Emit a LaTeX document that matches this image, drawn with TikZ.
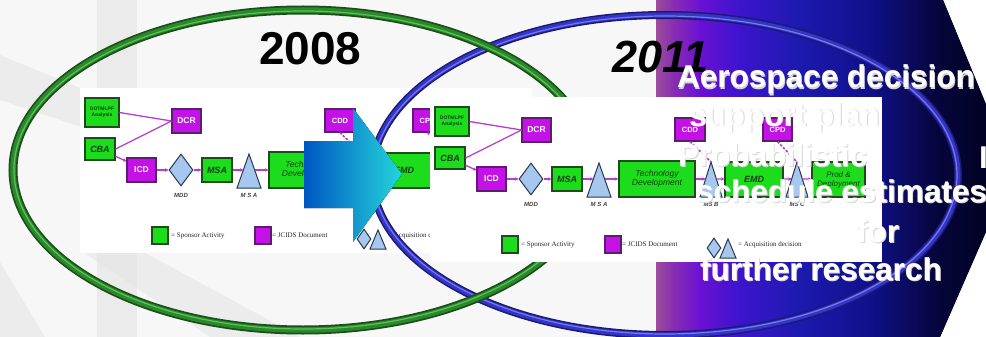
\documentclass[tikz,border=0pt]{standalone}
\usepackage{fontspec}
\setmainfont{Liberation Sans}
\newfontfamily\legendfont{Liberation Serif}
\usetikzlibrary{shapes.geometric,arrows.meta}

% chart colours
\definecolor{actgreen}{HTML}{1CDC1C}
\definecolor{actedge}{HTML}{1E4A1E}
\definecolor{docpurple}{HTML}{C412E6}
\definecolor{docedge}{HTML}{5C1C70}
\definecolor{decfill}{HTML}{A6C8EE}
\definecolor{decedge}{HTML}{27384A}
\definecolor{flow}{HTML}{B63CD6}
\definecolor{labelgreen}{HTML}{123C12}
% ellipse and arrow colours
\definecolor{ringgreenD}{HTML}{1A4F1A}
\definecolor{ringgreen}{HTML}{2A8A2A}
\definecolor{ringgreenL}{HTML}{5CC05C}
\definecolor{ringblueD}{HTML}{1A1A70}
\definecolor{ringblue}{HTML}{3434C8}
\definecolor{ringblueL}{HTML}{7878F2}
\definecolor{arrowL}{HTML}{0056C2}
\definecolor{arrowR}{HTML}{24D6DA}
% panel gradient
\definecolor{pA}{HTML}{9C4E9A}
\definecolor{pB}{HTML}{8A30B0}
\definecolor{pC}{HTML}{6A10D4}
\definecolor{pD}{HTML}{3C14CC}
\definecolor{pE}{HTML}{1C1AAE}
\definecolor{pF}{HTML}{10108A}
\definecolor{pG}{HTML}{05053A}
\definecolor{pH}{HTML}{000018}
\pgfdeclarehorizontalshading{panelshade}{100bp}{color(0bp)=(pA); color(25bp)=(pA); color(27.2bp)=(pB); color(31.2bp)=(pC); color(36.8bp)=(pD); color(45.2bp)=(pE); color(55bp)=(pF); color(64.8bp)=(pG); color(75bp)=(pH); color(100bp)=(pH)}

\tikzset{
  actbox/.style={draw=actedge, fill=actgreen, line width=1.1pt, inner sep=0pt, text=labelgreen, align=center},
  docbox/.style={draw=docedge, fill=docpurple, line width=1.1pt, inner sep=0pt, text=white, align=center,
    font=\bfseries\fontsize{8.5}{9}\selectfont},
  decision/.style={draw=decedge, fill=decfill, line width=1pt},
  flowline/.style={draw=flow, line width=1.3pt},
  flowarrow/.style={flowline, -{Stealth[length=3.5pt,width=3.5pt]}},
  linkline/.style={draw=flow, line width=1.6pt, dash pattern=on 2.5pt off 1.5pt},
  stagelabel/.style={font=\bfseries\itshape\fontsize{6}{7}\selectfont, text=black!75, inner sep=0pt},
  legendtext/.style={font=\legendfont\fontsize{7}{8}\selectfont, text=black!85, anchor=west, inner sep=0pt},
  yeartitle/.style={font=\bfseries\fontsize{46}{50}\selectfont, anchor=base west, inner sep=0pt},
  panelline/.style={font=\bfseries\fontsize{31.5}{36}\selectfont, text=white, anchor=base west, inner sep=0pt},
  panelshadow/.style={panelline, text=black!16, xshift=1pt, yshift=-1pt},
}

% JCIDS process chart, drawn in a 452 x 165 frame
\newcommand\jcidschart{%
  \fill[white] (0,0) rectangle (452,165);
  % boxes
  \node[actbox, minimum width=34pt, minimum height=29pt, font=\bfseries\fontsize{5}{5.5}\selectfont] (dot) at (22,24.5) {DOTMLPF\\Analysis};
  \node[actbox, minimum width=30pt, minimum height=22pt, font=\bfseries\itshape\fontsize{9}{10}\selectfont] (cba) at (20,61) {CBA};
  \node[docbox, minimum width=29pt, minimum height=24pt] (dcr) at (106.5,33) {DCR};
  \node[docbox, minimum width=29pt, minimum height=24pt] (icd) at (61.5,82) {ICD};
  \node[decision, diamond, minimum width=24pt, minimum height=32pt, inner sep=0pt] (mdd) at (101,82) {};
  \node[actbox, minimum width=30pt, minimum height=24pt, font=\bfseries\itshape\fontsize{9}{10}\selectfont] (msa) at (137,82) {MSA};
  \draw[decision] (157,100) -- (169,66) -- (181,100) -- cycle;
  \coordinate (tria-w) at (163.5,82);
  \coordinate (tria-e) at (174.5,82);
  \node[actbox, minimum width=76pt, minimum height=36pt, font=\itshape\fontsize{8.5}{9.5}\selectfont] (tech) at (227,82) {Technology\\Development};
  \node[docbox, minimum width=30pt, minimum height=23pt, font=\bfseries\fontsize{7.5}{8}\selectfont] (cdd) at (260,32.5) {CDD};
  \draw[decision] (270,100) -- (281,65) -- (292,100) -- cycle;
  \coordinate (trib-top) at (281,65);
  \coordinate (trib-w) at (275.7,82);
  \coordinate (trib-e) at (286.3,82);
  \node[actbox, minimum width=58pt, minimum height=35pt, font=\bfseries\itshape\fontsize{9}{10}\selectfont] (emd) at (324,82.5) {EMD};
  \node[docbox, minimum width=29pt, minimum height=23pt, font=\bfseries\fontsize{7.5}{8}\selectfont] (cpd) at (347.5,32.5) {CPD};
  \draw[decision] (356,100) -- (367,65) -- (378,100) -- cycle;
  \coordinate (tric-top) at (367,65);
  \coordinate (tric-w) at (361.7,82);
  \coordinate (tric-e) at (372.3,82);
  \node[actbox, minimum width=53pt, minimum height=35pt, font=\itshape\fontsize{8}{9}\selectfont] (prod) at (408.5,82.5) {Prod \&\\Deployment};
  % milestone labels
  \node[stagelabel] (mddlabel) at (101,107) {MDD};
  \node[stagelabel] (msalabel) at (169,107) {M S A};
  \node[stagelabel] (msblabel) at (281,107) {MS B};
  \node[stagelabel] (msclabel) at (367,107) {MS C};
  % flow
  \draw[flowline] (dot.east) -- (dcr.west);
  \draw[flowline] (cba.east) -- (dcr.west);
  \draw[flowarrow] (cba.-25) -- (icd.150);
  \draw[flowarrow] (icd) -- (mdd);
  \draw[flowarrow] (mdd) -- (msa);
  \draw[flowarrow] (msa) -- (tria-w);
  \draw[flowarrow] (tria-e) -- (tech);
  \draw[flowarrow] (tech) -- (trib-w);
  \draw[flowarrow] (trib-e) -- (emd);
  \draw[flowarrow] (emd) -- (tric-w);
  \draw[flowarrow] (tric-e) -- (prod);
  \draw[linkline] (cdd.south) -- (trib-top);
  \draw[linkline] (cpd.south) -- (tric-top);
  % key
  \node[actbox, minimum width=16pt, minimum height=17pt] (keyact) at (80,147.5) {};
  \node[legendtext] (keyacttext) at (91,147.5) {= Sponsor Activity};
  \node[docbox, minimum width=16pt, minimum height=17pt] (keydoc) at (183,147.5) {};
  \node[legendtext] (keydoctext) at (192,147.5) {= JCIDS Document};
  \node[decision, diamond, minimum width=14pt, minimum height=20pt, inner sep=0pt] (keydec) at (284,151) {};
  \draw[decision] (290,161) -- (298,142) -- (306,161) -- cycle;
  \node[legendtext] (keydectext) at (308,148) {= Acquisition decision};
}

\begin{document}
\begin{tikzpicture}[x=1pt, y=-1pt]
  \useasboundingbox (0,0) rectangle (986,337);
  \clip (0,0) rectangle (986,337);

  % slide background
  \fill[white] (0,0) rectangle (986,337);
  \fill[black!3] (0,0) rectangle (656,337);
  \fill[black!11, opacity=0.6] (97,0) rectangle (137,337);
  \fill[black!10, opacity=0.6] (0,55) -- (90,92) -- (90,130) -- (0,100) -- cycle;
  \fill[black!10, opacity=0.6] (80,250) -- (140,250) -- (300,337) -- (210,337) -- cycle;
  \fill[black!10, opacity=0.6] (0,262) -- (45,337) -- (0,337) -- cycle;

  % gradient chevron panel
  \fill[shading=panelshade] (656,0) -- (943,0) -- (1013,170) -- (940,337) -- (656,337) -- cycle;

  % 2008 chart
  \begin{scope}[shift={(80,88)}, name prefix=old-]
    \jcidschart
  \end{scope}

  % 2011 ring
  \draw[ringblueD, line width=8pt] (665,175) ellipse [x radius=293pt, y radius=160pt];
  \draw[ringblue, line width=5pt] (665,175) ellipse [x radius=293pt, y radius=160pt];
  \draw[ringblueL, line width=1.2pt] (665,175) ellipse [x radius=292pt, y radius=159pt];
  % 2008 ring
  \draw[ringgreenD, line width=9pt] (303,170) ellipse [x radius=290pt, y radius=160pt];
  \draw[ringgreen, line width=5.5pt] (303,170) ellipse [x radius=290pt, y radius=160pt];
  \draw[ringgreenL, line width=1.2pt] (303,170) ellipse [x radius=289pt, y radius=159pt];

  % transition arrow
  \fill[left color=arrowL, right color=arrowR] (304,141) -- (353,141) -- (353,108) -- (402,174)
    -- (353,242) -- (353,208) -- (304,208) -- cycle;

  % 2011 chart
  \begin{scope}[shift={(430,97)}, name prefix=new-]
    \jcidschart
  \end{scope}

  % year titles
  \node[yeartitle] (yearold) at (259,65) {2008};
  \node[yeartitle, font=\bfseries\itshape\fontsize{45}{50}\selectfont] (yearnew) at (612,73) {2011};

  % panel text
  \node[panelshadow] (lineAs) at (677,88) {Aerospace decision};
  \node[panelline] (lineA) at (677,88) {Aerospace decision};
  \node[panelshadow] (lineBs) at (689,126) {support plan};
  \node[panelline] (lineB) at (689,126) {support plan};
  \node[panelshadow] (lineCs) at (678,166) {Probabilistic};
  \node[panelline] (lineC) at (678,166) {Probabilistic};
  \node[panelline] (lineCx) at (979,168) {I};
  \node[panelshadow] (lineDs) at (696,202) {schedule estimates};
  \node[panelline] (lineD) at (696,202) {schedule estimates};
  \node[panelshadow] (lineEs) at (857,242) {for};
  \node[panelline] (lineE) at (857,242) {for};
  \node[panelshadow] (lineFs) at (700,280) {further research};
  \node[panelline] (lineF) at (700,280) {further research};
\end{tikzpicture}
\end{document}
